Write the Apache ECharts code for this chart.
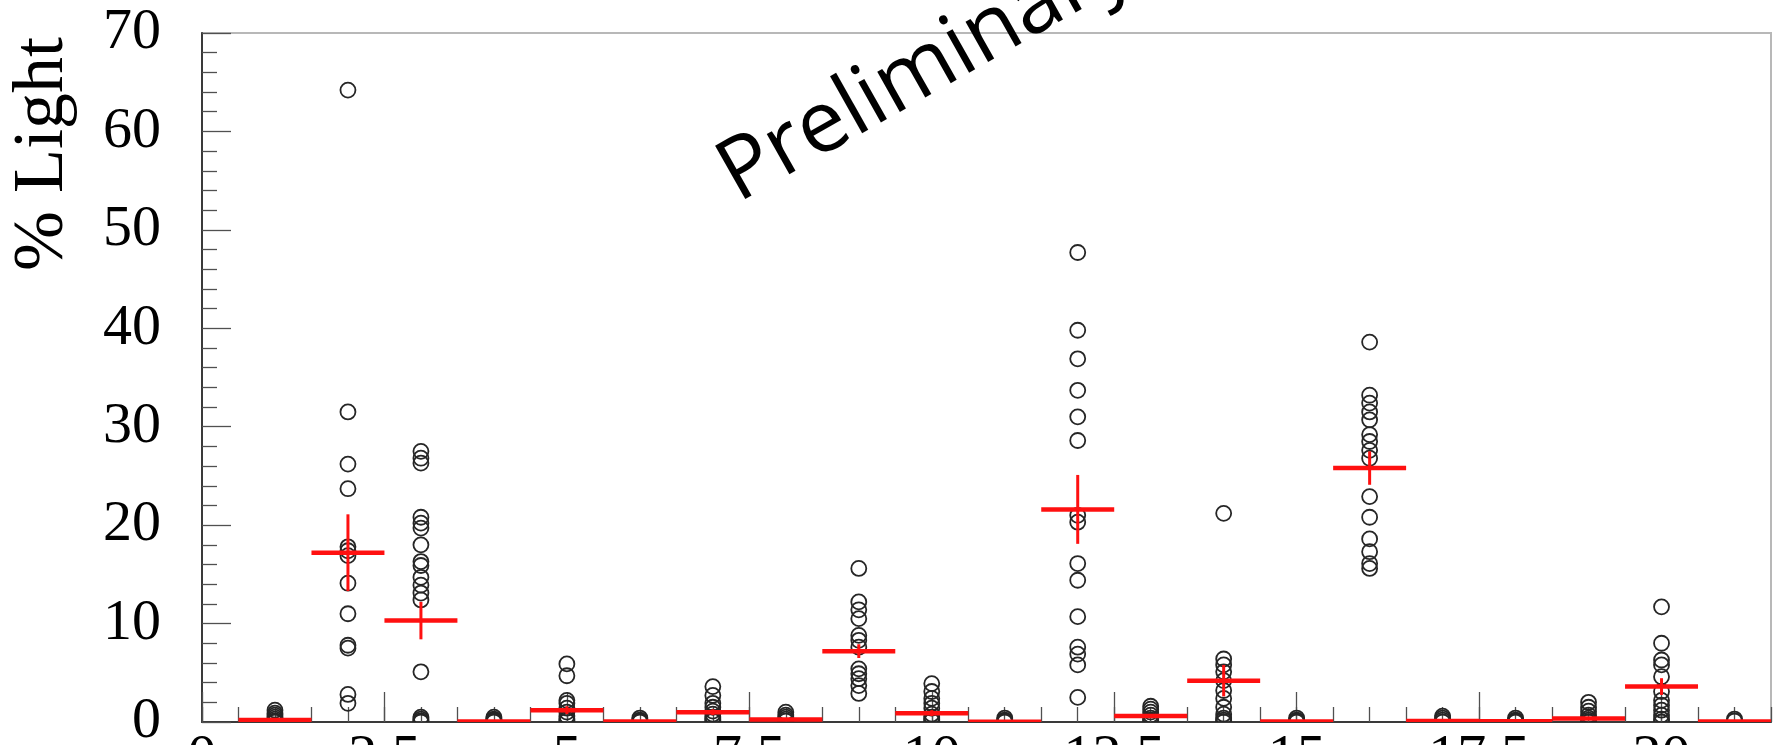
<!DOCTYPE html>
<html>
<head>
<meta charset="utf-8">
<script src="https://cdn.jsdelivr.net/npm/echarts@6/dist/echarts.min.js"></script>
<style>
  html, body { margin: 0; padding: 0; background: #fff; }
  #chart { width: 1781px; height: 745px; }
</style>
</head>
<body>
<div id="chart"></div>
<script>
// bin centres on the x axis
const bins = [1, 2, 3, 4, 5, 6, 7, 8, 9, 10, 11, 12, 13, 14, 15, 16, 17, 18, 19, 20, 21];

const measurements = [
  [1.2, 0.9, 0.7, 0.5, 0.3, 0.1, 0],
  [64.2, 31.5, 26.2, 23.7, 17.8, 17.4, 16.9, 14.1, 11.0, 7.8, 7.5, 2.8, 1.9],
  [27.5, 26.8, 26.3, 20.8, 20.2, 19.7, 18.0, 16.3, 15.9, 14.7, 13.9, 13.1, 12.4, 5.1, 0.5, 0.3, 0.1, 0],
  [0.5, 0.3, 0.2, 0.1, 0],
  [5.9, 4.7, 2.2, 1.9, 1.4, 1.0, 0.6, 0.3, 0.1],
  [0.4, 0.2, 0.1, 0],
  [3.6, 2.7, 1.9, 1.5, 1.1, 0.8, 0.5, 0.3, 0.1],
  [1.0, 0.7, 0.5, 0.3, 0.1],
  [15.6, 12.2, 11.4, 10.5, 8.8, 8.3, 7.6, 5.4, 4.9, 4.4, 3.7, 2.9],
  [3.9, 3.1, 2.4, 1.9, 1.4, 0.8, 0.5, 0.3, 0.1],
  [0.4, 0.2, 0.1, 0],
  [47.7, 39.8, 36.9, 33.7, 31.0, 28.6, 21.0, 20.3, 16.1, 14.4, 10.7, 7.6, 6.9, 5.8, 2.5],
  [1.6, 1.3, 1.0, 0.7, 0.4, 0.2, 0],
  [21.2, 6.4, 5.8, 5.1, 4.2, 3.2, 2.4, 1.5, 0.8, 0.4, 0.2, 0],
  [0.4, 0.2, 0.1, 0],
  [38.6, 33.2, 32.4, 31.5, 30.7, 29.2, 28.5, 27.6, 26.8, 22.9, 20.8, 18.6, 17.3, 16.1, 15.6],
  [0.6, 0.4, 0.2, 0],
  [0.4, 0.2, 0.1, 0],
  [2.0, 1.5, 1.1, 0.7, 0.4, 0.2, 0],
  [11.7, 8.0, 6.3, 5.8, 4.6, 3.1, 2.2, 1.7, 1.2, 0.7, 0.3, 0],
  [0.3, 0.1]
];

// mean per bin and its error (red crosses)
const meanLight = [0.2, 17.2, 10.3, 0.05, 1.2, 0.05, 1.0, 0.25, 7.2, 0.9, 0.03, 21.6, 0.6, 4.2, 0.05, 25.8, 0.1, 0.08, 0.35, 3.6, 0.05];
const meanError = [0.15, 3.9, 1.9, 0.05, 0.4, 0.05, 0.3, 0.1, 0.7, 0.3, 0.03, 3.5, 0.2, 1.6, 0.05, 1.7, 0.05, 0.05, 0.15, 0.85, 0.05];
const binHalfWidth = 0.5;

const pointData = [];
bins.forEach((b, i) => {
  measurements[i].forEach(v => pointData.push([b, v]));
});
const meanData = bins.map((b, i) => [b, meanLight[i], meanError[i]]);

const chart = echarts.init(document.getElementById('chart'));

const serif = 'Liberation Serif';
const tickColor = '#505050';

chart.setOption({
  animation: false,
  grid: {
    left: 202, right: 10, top: 33, bottom: 23,
    outerBoundsMode: 'none', containLabel: false,
    show: true, borderColor: '#b8b8b8', borderWidth: 2, backgroundColor: '#fff'
  },
  xAxis: [
    {
      type: 'value', min: 0, max: 21.5, interval: 2.5,
      axisLine: { lineStyle: { color: '#3a3a3a', width: 2 } },
      axisTick: { inside: true, length: 30, lineStyle: { color: tickColor, width: 1.3 } },
      axisLabel: { margin: 8, fontFamily: serif, fontSize: 58, color: '#000', showMaxLabel: false },
      splitLine: { show: false }
    },
    {
      type: 'value', min: 0, max: 21.5, interval: 0.5, position: 'bottom',
      axisLine: { show: false },
      axisTick: { inside: true, length: 15, lineStyle: { color: tickColor, width: 1.3 } },
      axisLabel: { show: false },
      splitLine: { show: false }
    }
  ],
  yAxis: {
    type: 'value', min: 0, max: 70, interval: 10,
    axisLine: { show: true, lineStyle: { color: '#3a3a3a', width: 2 } },
    axisTick: { show: true, inside: true, length: 29, lineStyle: { color: tickColor, width: 1.3 } },
    minorTick: { show: true, splitNumber: 5, length: 15, lineStyle: { color: tickColor, width: 1.3 } },
    axisLabel: { margin: 41, fontFamily: serif, fontSize: 58, color: '#000' },
    splitLine: { show: false }
  },
  series: [
    {
      type: 'custom',
      clip: true,
      data: pointData,
      renderItem: (params, api) => {
        const p = api.coord([api.value(0), api.value(1)]);
        return {
          type: 'circle',
          shape: { cx: p[0], cy: p[1], r: 7.5 },
          style: { fill: 'none', stroke: '#262626', lineWidth: 1.8 }
        };
      },
      z: 2
    },
    {
      type: 'custom',
      clip: true,
      data: meanData,
      renderItem: (params, api) => {
        const x = api.value(0), m = api.value(1), e = api.value(2);
        const h0 = api.coord([x - binHalfWidth, m]);
        const h1 = api.coord([x + binHalfWidth, m]);
        const v0 = api.coord([x, m - e]);
        const v1 = api.coord([x, m + e]);
        return {
          type: 'group',
          children: [
            { type: 'line', shape: { x1: h0[0], y1: h0[1], x2: h1[0], y2: h1[1] },
              style: { stroke: '#ff1010', lineWidth: 4.5 } },
            { type: 'line', shape: { x1: v0[0], y1: v0[1], x2: v1[0], y2: v1[1] },
              style: { stroke: '#ff1010', lineWidth: 3 } }
          ]
        };
      },
      z: 3
    }
  ],
  graphic: [
    {
      type: 'text', x: 43, y: 154, rotation: Math.PI / 2,
      style: {
        text: '% Light', fontFamily: serif, fontSize: 72, fill: '#000',
        align: 'center', verticalAlign: 'middle', textAlign: 'center', textVerticalAlign: 'middle'
      }
    },
    {
      type: 'text', x: 726, y: 182, rotation: 29.5 * Math.PI / 180, z: 100,
      style: {
        text: 'Preliminary', fontFamily: 'Open Sans', fontSize: 86, fill: '#000',
        align: 'left', verticalAlign: 'middle', textAlign: 'left', textVerticalAlign: 'middle'
      }
    }
  ]
});
</script>
</body>
</html>
